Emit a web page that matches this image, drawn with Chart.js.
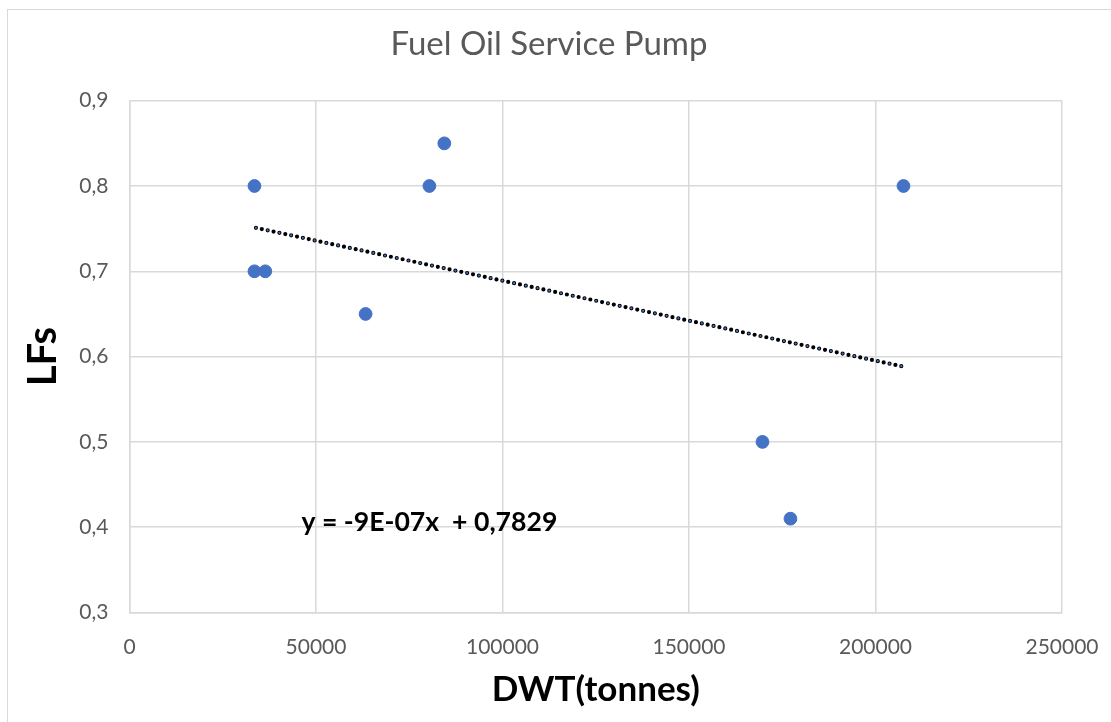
<!DOCTYPE html>
<html>
<head>
<meta charset="utf-8">
<script src="https://cdn.jsdelivr.net/npm/chart.js@4.4.1/dist/chart.umd.min.js"></script>
<style>
  html, body { margin: 0; padding: 0; background: #fff; }
  #wrap { position: relative; width: 1111px; height: 722px; }
  #frame { position: absolute; left: 7px; top: 9px; width: 1120px; height: 740px; border: 1.5px solid #d9d9d9; }
  #chart { position: absolute; left: 0; top: 0; }
</style>
</head>
<body>
<div id="wrap">
  <div id="frame"></div>
  <canvas id="chart" width="1111" height="722"></canvas>
</div>
<script>
// DWT (tonnes) and load factor of each ship
const dwt = [33500, 33500, 36400, 63300, 80400, 84400, 169700, 177200, 207500];
const lfs = [0.8, 0.7, 0.7, 0.65, 0.8, 0.85, 0.5, 0.41, 0.8];

// linear trendline end points as Excel drew them
const trendX = [33900, 207700];
const trendY = [0.751, 0.588];

const xTicks = [0, 50000, 100000, 150000, 200000, 250000];
const yTicks = [0.3, 0.4, 0.5, 0.6, 0.7, 0.8, 0.9];

const titleText = 'Fuel Oil Service Pump';
const equationText = 'y = -9E-07x  + 0,7829';

const points = dwt.map((d, i) => ({ x: d, y: lfs[i] }));
const trend = trendX.map((d, i) => ({ x: d, y: trendY[i] }));

// chart title (centred on the frame, like Excel) and the trendline equation
const extraText = {
  id: 'extraText',
  afterDatasetsDraw(chart) {
    const c = chart.ctx;
    c.save();
    c.textAlign = 'center';
    c.textBaseline = 'middle';

    c.font = '33px Lato';
    c.fillStyle = '#595959';
    c.fillText(titleText, 549, 44);

    const x = chart.scales.x.getPixelForValue(80400);
    const y = chart.scales.y.getPixelForValue(0.406);
    c.font = 'bold 26.6px Lato';
    c.fillStyle = '#000';
    c.fillText(equationText, x, y);
    c.restore();
  }
};

const ctx = document.getElementById('chart').getContext('2d');
const chart = new Chart(ctx, {
  type: 'scatter',
  data: {
    datasets: [{
      label: 'LFs',
      data: points,
      backgroundColor: '#4472c4',
      borderColor: '#4472c4',
      pointRadius: 6.4,
      pointHoverRadius: 6.4,
      order: 1
    }, {
      label: 'trend blue',
      data: trend,
      showLine: true,
      pointRadius: 0,
      borderColor: '#4472c4',
      borderWidth: 2.2,
      borderDash: [0, 12],
      borderCapStyle: 'round',
      order: 2
    }, {
      label: 'trend black',
      data: trend,
      showLine: true,
      pointRadius: 0,
      borderColor: '#000',
      borderWidth: 4.2,
      borderDash: [0, 6],
      borderCapStyle: 'round',
      order: 3
    }]
  },
  options: {
    responsive: false,
    animation: false,
    layout: { padding: { left: 0, right: 49, top: 100.7, bottom: 0 } },
    plugins: {
      legend: { display: false },
      tooltip: { enabled: false },
      title: { display: false }
    },
    scales: {
      x: {
        type: 'linear',
        min: 0,
        max: 250000,
        afterBuildTicks: axis => { axis.ticks = xTicks.map(v => ({ value: v })); },
        afterFit: axis => {
          axis.height = 109.5;
          axis.paddingLeft = 0;
          axis.paddingRight = 0;
        },
        grid: { color: '#d9d9d9', lineWidth: 1.5, drawTicks: false },
        border: { color: '#d9d9d9', width: 1.5 },
        ticks: {
          color: '#595959',
          padding: 22,
          maxRotation: 0,
          font: { family: 'Lato', size: 21 },
          callback: v => String(v)
        },
        title: {
          display: true,
          text: 'DWT(tonnes)',
          color: '#000',
          font: { family: 'Lato', size: 35, weight: 'bold' },
          padding: { top: 0, bottom: 11 }
        }
      },
      y: {
        type: 'linear',
        min: 0.3,
        max: 0.9,
        afterBuildTicks: axis => { axis.ticks = yTicks.map(v => ({ value: v })); },
        afterFit: axis => { axis.width = 129.5; },
        grid: { color: '#d9d9d9', lineWidth: 1.5, drawTicks: false },
        border: { color: '#d9d9d9', width: 1.5 },
        ticks: {
          color: '#595959',
          padding: 21,
          font: { family: 'Lato', size: 21 },
          callback: v => v.toFixed(1).replace('.', ',')
        },
        title: {
          display: true,
          text: 'LFs',
          color: '#000',
          font: { family: 'Lato', size: 40, weight: 'bold' },
          padding: { top: 19, bottom: 0 }
        }
      }
    }
  },
  plugins: [extraText]
});
</script>
</body>
</html>
